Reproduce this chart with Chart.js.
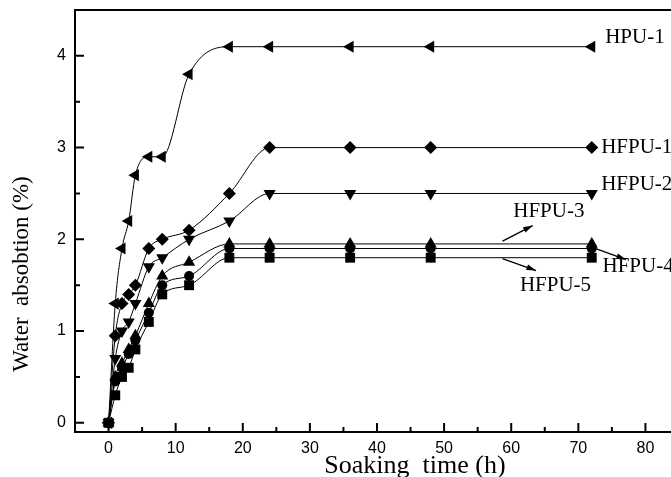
<!DOCTYPE html>
<html>
<head>
<meta charset="utf-8">
<title>Water absorption</title>
<script src="https://cdn.jsdelivr.net/npm/chart.js@4/dist/chart.umd.min.js"></script>
<style>
  html, body { margin: 0; padding: 0; background: #fff; overflow: hidden; }
  #wrap { width: 700px; height: 477px; }
</style>
</head>
<body>
<div id="wrap"><canvas id="absChart" width="700" height="477"></canvas></div>
<script>
// soaking times (h)
const hours = [0, 1, 2, 3, 4, 6, 8, 12, 18, 24, 36, 48, 72];

// water absorption (%) for each sample
const hpu1  = [0, 1.3, 1.9, 2.2, 2.7, 2.9, 2.9, 3.8, 4.1, 4.1, 4.1, 4.1, 4.1];
const hfpu1 = [0, 0.95, 1.3, 1.4, 1.5, 1.9, 2.0, 2.1, 2.5, 3.0, 3.0, 3.0, 3.0];
const hfpu2 = [0, 0.7, 1.0, 1.1, 1.3, 1.7, 1.8, 2.0, 2.2, 2.5, 2.5, 2.5, 2.5];
const hfpu3 = [0, 0.5, 0.65, 0.8, 0.95, 1.3, 1.6, 1.75, 1.95, 1.95, 1.95, 1.95, 1.95];
const hfpu4 = [0, 0.45, 0.6, 0.75, 0.9, 1.2, 1.5, 1.6, 1.9, 1.9, 1.9, 1.9, 1.9];
const hfpu5 = [0, 0.3, 0.5, 0.6, 0.8, 1.1, 1.4, 1.5, 1.8, 1.8, 1.8, 1.8, 1.8];

const xTicks = [0, 10, 20, 30, 40, 50, 60, 70, 80];
const yTicks = [0, 1, 2, 3, 4];

// sample labels: [text, x, y] in data units
const labels = [
    ['HPU-1', 74.0, 4.2],
    ['HFPU-1', 73.4, 3.0],
    ['HFPU-2', 73.4, 2.6],
    ['HFPU-3', 65.6, 2.3],
    ['HFPU-4', 73.6, 1.7],
    ['HFPU-5', 66.6, 1.5]
];
// pointer arrows: [x0, y0, x1, y1] in data units
const arrows = [
    [58.7, 1.98, 63.2, 2.15],
    [72.6, 1.90, 77.1, 1.78],
    [58.7, 1.79, 63.7, 1.66]
];

function series(name, values, style, radius, rotation) {
    return {
        label: name,
        data: hours.map((h, i) => ({ x: h, y: values[i] })),
        borderColor: '#000',
        backgroundColor: '#000',
        borderWidth: 1,
        pointStyle: style,
        pointRadius: radius,
        pointRotation: rotation || 0,
        pointBorderWidth: 0,
        cubicInterpolationMode: 'monotone'
    };
}

const frame = {
    id: 'frame',
    afterDraw(chart) {
        const ctx = chart.ctx;
        const a = chart.chartArea;
        const xs = chart.scales.x, ys = chart.scales.y;
        ctx.save();
        ctx.strokeStyle = '#000';
        ctx.lineWidth = 2;
        ctx.strokeRect(a.left, a.top, a.right - a.left, a.bottom - a.top);

        // inward ticks
        ctx.beginPath();
        for (let v = -5; v <= 85; v += 5) {
            if (v < xs.min || v > xs.max) continue;
            const px = xs.getPixelForValue(v);
            const len = v % 10 === 0 ? 9 : 5;
            ctx.moveTo(px, a.bottom);
            ctx.lineTo(px, a.bottom - len);
        }
        for (let v = 0; v <= 4.5; v += 0.5) {
            const py = ys.getPixelForValue(v);
            const len = v % 1 === 0 ? 9 : 5;
            ctx.moveTo(a.left, py);
            ctx.lineTo(a.left + len, py);
        }
        ctx.stroke();

        // sample names
        ctx.fillStyle = '#000';
        ctx.font = '21px "Liberation Serif", "Times New Roman", serif';
        ctx.textBaseline = 'middle';
        labels.forEach(([t, x, y]) => {
            ctx.textAlign = (t === 'HFPU-3' || t === 'HFPU-5') ? 'center' : 'left';
            ctx.fillText(t, xs.getPixelForValue(x), ys.getPixelForValue(y));
        });

        // arrows
        ctx.lineWidth = 1.3;
        arrows.forEach(([x0, y0, x1, y1]) => {
            const p0 = [xs.getPixelForValue(x0), ys.getPixelForValue(y0)];
            const p1 = [xs.getPixelForValue(x1), ys.getPixelForValue(y1)];
            const ang = Math.atan2(p1[1] - p0[1], p1[0] - p0[0]);
            ctx.beginPath();
            ctx.moveTo(p0[0], p0[1]);
            ctx.lineTo(p1[0], p1[1]);
            ctx.stroke();
            ctx.beginPath();
            ctx.moveTo(p1[0], p1[1]);
            ctx.lineTo(p1[0] - 10 * Math.cos(ang - 0.3), p1[1] - 10 * Math.sin(ang - 0.3));
            ctx.lineTo(p1[0] - 10 * Math.cos(ang + 0.3), p1[1] - 10 * Math.sin(ang + 0.3));
            ctx.closePath();
            ctx.fill();
        });

        // axis titles
        ctx.font = '26px "Liberation Serif", "Times New Roman", serif';
        ctx.textAlign = 'center';
        ctx.fillText('Soaking  time (h)', 415, 466);
        ctx.translate(22, 274);
        ctx.rotate(-Math.PI / 2);
        ctx.font = '23px "Liberation Serif", "Times New Roman", serif';
        ctx.fillText('Water  absobtion (%)', 0, 0);
        ctx.restore();
    }
};

new Chart(document.getElementById('absChart'), {
    type: 'line',
    data: {
        datasets: [
            series('HPU-1', hpu1, 'triangle', 7, -90),
            series('HFPU-1', hfpu1, 'rectRot', 6.5),
            series('HFPU-2', hfpu2, 'triangle', 7, 180),
            series('HFPU-3', hfpu3, 'triangle', 7),
            series('HFPU-4', hfpu4, 'circle', 5),
            series('HFPU-5', hfpu5, 'rect', 7)
        ]
    },
    options: {
        responsive: false,
        animation: false,
        events: [],
        layout: { padding: { left: 0, top: 10, right: 21, bottom: 0 } },
        plugins: { legend: { display: false }, tooltip: { enabled: false } },
        scales: {
            x: {
                type: 'linear',
                min: -5,
                max: 85,
                grid: { display: false, drawTicks: false },
                border: { display: false },
                afterFit(scale) {
                    scale.height = 45;
                    scale.paddingLeft = 0;
                    scale.paddingRight = 0;
                },
                afterBuildTicks(scale) { scale.ticks = xTicks.map(v => ({ value: v })); },
                ticks: {
                    color: '#000',
                    padding: 7,
                    maxRotation: 0,
                    font: { family: '"Liberation Sans", Arial, sans-serif', size: 16 }
                }
            },
            y: {
                type: 'linear',
                min: -0.1,
                max: 4.5,
                grid: { display: false, drawTicks: false },
                border: { display: false },
                afterFit(scale) {
                    scale.width = 75;
                    scale.paddingTop = 0;
                    scale.paddingBottom = 0;
                },
                afterBuildTicks(scale) { scale.ticks = yTicks.map(v => ({ value: v })); },
                ticks: {
                    color: '#000',
                    padding: 9,
                    font: { family: '"Liberation Sans", Arial, sans-serif', size: 16 }
                }
            }
        }
    },
    plugins: [frame]
});
</script>
</body>
</html>
